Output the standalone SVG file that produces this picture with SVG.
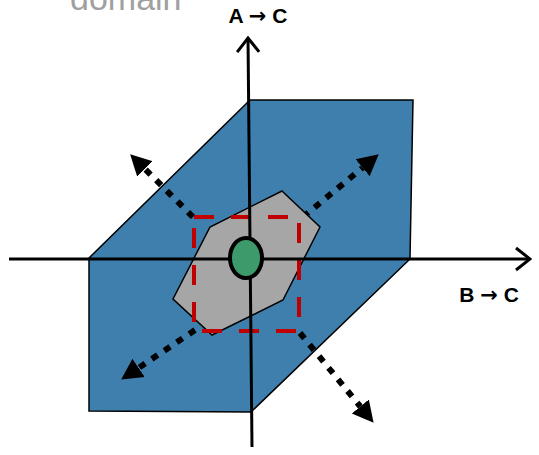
<svg xmlns="http://www.w3.org/2000/svg" width="539" height="455" viewBox="0 0 539 455">
<style>
.lbl{font-family:"Liberation Sans",Arial,sans-serif;font-weight:bold;font-size:21px;fill:#000}
.arr{font-family:"DejaVu Sans",sans-serif;font-weight:bold}
.dot{stroke:#000;stroke-width:6;stroke-dasharray:7 8;fill:none;marker-end:url(#tri)}
.axis{stroke:#000;stroke-width:3;fill:none;marker-end:url(#open)}
</style>
<defs>
<marker id="tri" markerUnits="userSpaceOnUse" viewBox="0 -12 24 24" markerWidth="24" markerHeight="24" refX="0" refY="0" orient="auto">
<path d="M0,-11 L21,0 L0,11 Z" fill="#000"/>
</marker>
<marker id="open" markerUnits="userSpaceOnUse" viewBox="-18 -14 20 28" markerWidth="20" markerHeight="28" refX="0" refY="0" orient="auto">
<path d="M-14,-11 L0,0 L-14,11" fill="none" stroke="#000" stroke-width="3"/>
</marker>
</defs>
<text x="70" y="10" font-family="'Liberation Sans',Arial,sans-serif" font-size="34" fill="#a0a0a0">domain</text>
<g id="region">
<path d="M250,100 L413,100 L410,259 L251,412 L89,411 L89,258 Z" fill="#3f7fad" stroke="#000" stroke-width="1.5"/>
</g>
<g id="connectors">
<line class="dot" x1="193" y1="217" x2="145" y2="169"/>
<line class="dot" x1="303" y1="217" x2="362.6" y2="167.7"/>
<line class="dot" x1="195" y1="330" x2="138.6" y2="367.9"/>
<line class="dot" x1="300" y1="333" x2="360.3" y2="406.5"/>
</g>
<g id="core">
<path d="M282,191 L320,227 L283,300 L212,335 L173,299 L210,227 Z" fill="#a6a6a6" stroke="#000" stroke-width="1.5"/>
</g>
<g id="box">
<rect x="194" y="217" width="105" height="114" fill="none" stroke="#c00000" stroke-width="4" stroke-dasharray="20 17"/>
</g>
<g id="axes">
<line class="axis" x1="9" y1="259" x2="530" y2="259"/>
<line class="axis" x1="252" y1="447" x2="248" y2="38"/>
</g>
<g id="point">
<ellipse cx="246" cy="258" rx="16" ry="20" fill="#3c9a6b" stroke="#000" stroke-width="4"/>
</g>
<text class="lbl" x="258" y="23" text-anchor="middle">A <tspan class="arr">→</tspan> C</text>
<text class="lbl" x="489" y="302" text-anchor="middle">B <tspan class="arr">→</tspan> C</text>
</svg>
